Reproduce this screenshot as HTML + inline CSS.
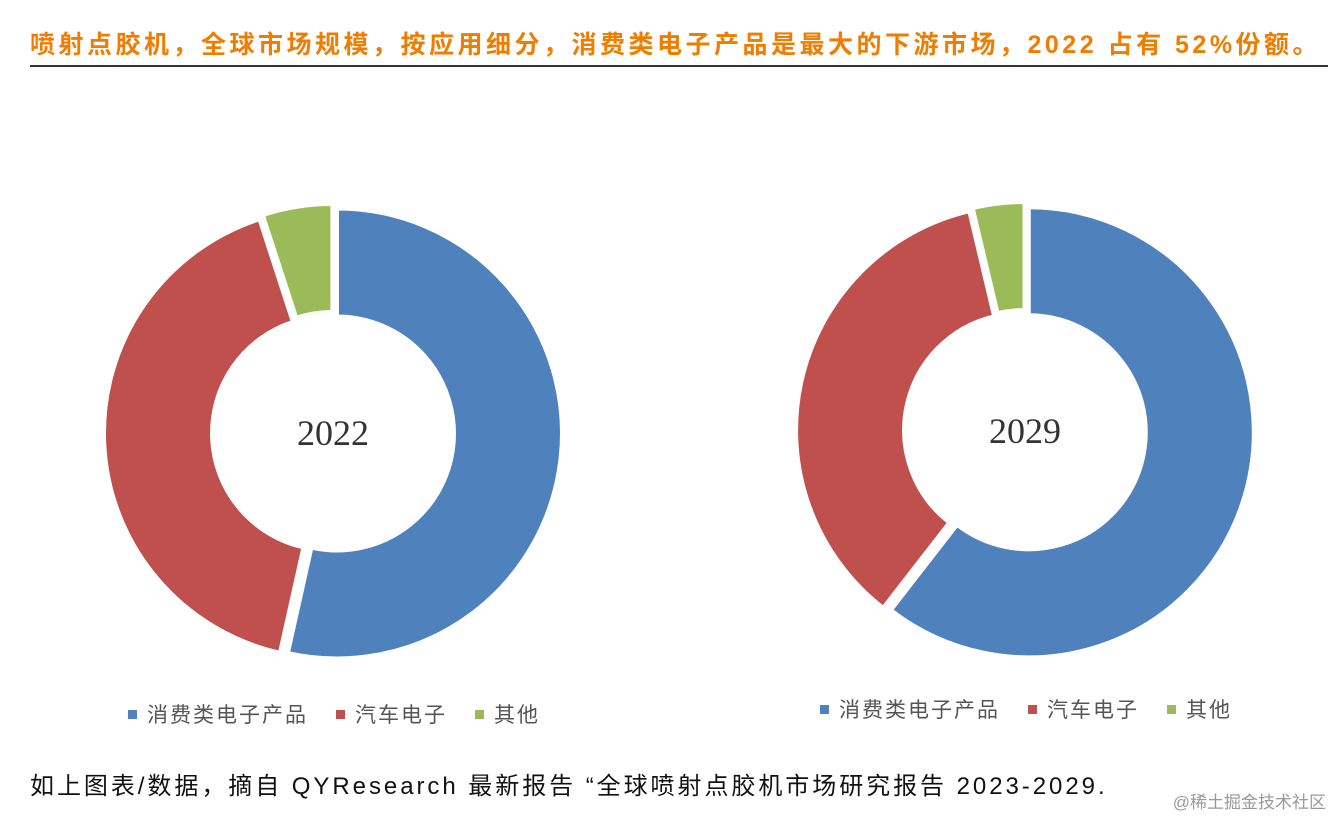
<!DOCTYPE html>
<html><head><meta charset="utf-8">
<style>
body{margin:0;width:1332px;height:816px;background:#fff;position:relative;overflow:hidden;font-family:"Liberation Sans","Noto Sans CJK SC",sans-serif}
.title{position:absolute;left:30px;top:25px;font-size:25px;letter-spacing:3.5px;font-weight:bold;color:#f07c00;white-space:nowrap}
.rule{position:absolute;left:30px;top:65px;width:1298px;height:2px;background:#333}
.legend{position:absolute;font-size:21px;letter-spacing:2px;color:#555;white-space:nowrap}
.legend span.sw{display:inline-block;width:9px;height:9px;margin-right:10px;vertical-align:middle;position:relative;top:-2px}
.legend .it{margin-right:28px}
.caption{position:absolute;left:30px;top:766px;font-size:24px;letter-spacing:2.95px;color:#111;white-space:nowrap}
.wm{position:absolute;right:6px;top:788px;font-size:17px;color:#999}
</style></head><body>
<div class="title">喷射点胶机，全球市场规模，按应用细分，消费类电子产品是最大的下游市场，2022 占有 52%份额。</div>
<div class="rule"></div>
<svg id="chart" width="1332" height="816" style="position:absolute;left:0;top:0"></svg>
<div class="legend" style="left:128px;top:699px">
<span class="it"><span class="sw" style="background:#4f81bd"></span>消费类电子产品</span><span class="it"><span class="sw" style="background:#c0504d"></span>汽车电子</span><span><span class="sw" style="background:#9bbb59"></span>其他</span></div>
<div class="legend" style="left:820px;top:694px">
<span class="it"><span class="sw" style="background:#4f81bd"></span>消费类电子产品</span><span class="it"><span class="sw" style="background:#c0504d"></span>汽车电子</span><span><span class="sw" style="background:#9bbb59"></span>其他</span></div>
<div class="caption">如上图表/数据，摘自 QYResearch 最新报告 “全球喷射点胶机市场研究报告 2023-2029.</div>
<div class="wm">@稀土掘金技术社区</div>
<script>
const categories = ["消费类电子产品","汽车电子","其他"];
const years = ["2022","2029"];
const values2022 = [53.5, 41.5, 5];
const values2029 = [60.5, 35.8, 3.7];
const colors = ["#4f81bd","#c0504d","#9bbb59"];
const svg = document.getElementById('chart');
const NS = "http://www.w3.org/2000/svg";
function pt(cx,cy,r,a){return [cx+r*Math.sin(a), cy-r*Math.cos(a)];}
function donut(cx,cy,R,r,vals,label,key){
  const tot = vals.reduce((a,b)=>a+b,0);
  let a0 = 0;
  vals.forEach((v,i)=>{
    const a1 = a0 + v/tot*2*Math.PI;
    const mid=(a0+a1)/2, off=4;
    const ox=off*Math.sin(mid), oy=-off*Math.cos(mid);
    const [x1,y1]=pt(cx+ox,cy+oy,R,a0),[x2,y2]=pt(cx+ox,cy+oy,R,a1);
    const [x3,y3]=pt(cx+ox,cy+oy,r,a1),[x4,y4]=pt(cx+ox,cy+oy,r,a0);
    const lg = (a1-a0)>Math.PI?1:0;
    const p=document.createElementNS(NS,'path');
    p.setAttribute('d',`M${x1},${y1}A${R},${R} 0 ${lg} 1 ${x2},${y2}L${x3},${y3}A${r},${r} 0 ${lg} 0 ${x4},${y4}Z`);
    p.setAttribute('fill',colors[i]);p.setAttribute('stroke','#fff');p.setAttribute('stroke-width','4');
    
    
    svg.appendChild(p);
    a0=a1;
  });
  const t=document.createElementNS(NS,'text');
  t.setAttribute('x',cx);t.setAttribute('y',cy+12);t.setAttribute('text-anchor','middle');
  t.setAttribute('font-family','"Liberation Serif",serif');t.setAttribute('font-size','36');t.setAttribute('fill','#333');
  t.textContent=label;
  
  
  svg.appendChild(t);
}
donut(333,433,225,117,values2022,years[0],'2022');
donut(1025,431,225,117,values2029,years[1],'2029');
</script>
</body></html>
